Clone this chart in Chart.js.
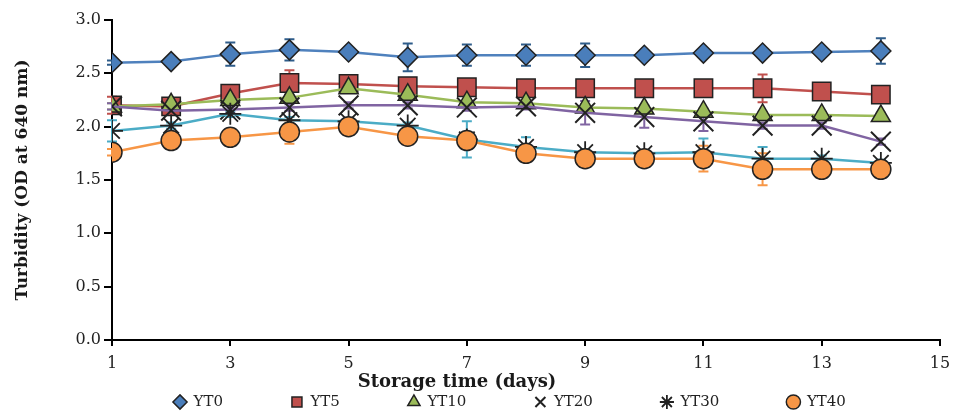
<!DOCTYPE html>
<html><head><meta charset="utf-8">
<script src="https://cdn.jsdelivr.net/npm/chart.js@4.4.1/dist/chart.umd.min.js"></script>
<style>html,body{margin:0;padding:0;background:#fff}#wrap{width:956px;height:412px}</style>
</head><body><div id="wrap"><canvas id="c" width="956" height="412"></canvas></div>
<script>
const days = [1, 2, 3, 4, 5, 6, 7, 8, 9, 10, 11, 12, 13, 14];
const xTicks = [1, 3, 5, 7, 9, 11, 13, 15];
const yTicks = [0, 0.5, 1.0, 1.5, 2.0, 2.5, 3.0];
const seriesNames = ['YT0', 'YT5', 'YT10', 'YT20', 'YT30', 'YT40'];

const yt0  = [2.60, 2.61, 2.68, 2.72, 2.70, 2.65, 2.67, 2.67, 2.67, 2.67, 2.69, 2.69, 2.70, 2.71];
const yt5  = [2.20, 2.19, 2.31, 2.41, 2.40, 2.38, 2.37, 2.36, 2.36, 2.36, 2.36, 2.36, 2.33, 2.30];
const yt10 = [2.19, 2.21, 2.25, 2.27, 2.36, 2.30, 2.23, 2.22, 2.18, 2.17, 2.14, 2.11, 2.11, 2.10];
const yt20 = [2.19, 2.15, 2.16, 2.18, 2.20, 2.20, 2.18, 2.19, 2.13, 2.09, 2.05, 2.01, 2.01, 1.86];
const yt30 = [1.96, 2.01, 2.12, 2.06, 2.05, 2.01, 1.88, 1.81, 1.76, 1.75, 1.76, 1.70, 1.70, 1.66];
const yt40 = [1.76, 1.87, 1.90, 1.95, 2.00, 1.91, 1.87, 1.75, 1.70, 1.70, 1.70, 1.60, 1.60, 1.60];

const yt0Err  = [0.02, 0.02, 0.11, 0.10, 0.02, 0.13, 0.10, 0.10, 0.11, 0.02, 0.02, 0.02, 0.02, 0.12];
const yt5Err  = [0.08, 0.03, 0.03, 0.12, 0.03, 0.03, 0.03, 0.03, 0.03, 0.03, 0.03, 0.13, 0.03, 0.03];
const yt10Err = [0.03, 0.03, 0.03, 0.03, 0.03, 0.03, 0.03, 0.03, 0.03, 0.03, 0.03, 0.03, 0.03, 0.03];
const yt20Err = [0.03, 0.03, 0.03, 0.03, 0.03, 0.03, 0.03, 0.03, 0.11, 0.10, 0.09, 0.03, 0.03, 0.03];
const yt30Err = [0.10, 0.03, 0.03, 0.03, 0.03, 0.03, 0.17, 0.09, 0.03, 0.03, 0.13, 0.11, 0.03, 0.03];
const yt40Err = [0.03, 0.03, 0.03, 0.11, 0.03, 0.03, 0.03, 0.03, 0.03, 0.03, 0.12, 0.15, 0.03, 0.03];

const xTitle = 'Storage time (days)';
const yTitle = 'Turbidity (OD at 640 nm)';

const pts = arr => days.map((d, i) => ({ x: d, y: arr[i] }));

function makeSet(i, vals, errs, style) {
  return Object.assign({
    label: seriesNames[i],
    data: pts(vals),
    errors: errs,
    order: 6 - i,
    tension: 0,
    borderWidth: 2.5,
    pointBorderWidth: 1.5,
    pointBorderColor: '#222'
  }, style);
}

const datasets = [
  makeSet(0, yt0, yt0Err, { borderColor: '#4F81BD', backgroundColor: '#4A7EBB', pointBackgroundColor: '#4A7EBB', pointStyle: 'rectRot', pointRadius: 10, errorColor: '#2E5C8A' }),
  makeSet(1, yt5, yt5Err, { borderColor: '#C0504D', backgroundColor: '#C0504D', pointBackgroundColor: '#C0504D', pointStyle: 'rect', pointRadius: 13, errorColor: '#C0504D' }),
  makeSet(2, yt10, yt10Err, { borderColor: '#9BBB59', backgroundColor: '#9BBB59', pointBackgroundColor: '#9BBB59', pointStyle: 'triangle', pointRadius: 11, errorColor: '#9BBB59' }),
  makeSet(3, yt20, yt20Err, { borderColor: '#8064A2', backgroundColor: '#8064A2', pointBackgroundColor: '#8064A2', pointStyle: 'crossRot', pointRadius: 14, pointBorderWidth: 2, errorColor: '#8064A2' }),
  makeSet(4, yt30, yt30Err, { borderColor: '#4BACC6', backgroundColor: '#4BACC6', pointBackgroundColor: '#4BACC6', pointStyle: 'star', pointRadius: 11, pointBorderWidth: 1.8, errorColor: '#4BACC6' }),
  makeSet(5, yt40, yt40Err, { borderColor: '#F79646', backgroundColor: '#F79646', pointBackgroundColor: '#F79646', pointStyle: 'circle', pointRadius: 10, errorColor: '#F79646' })
];

const errorBars = {
  id: 'errorBars',
  beforeDatasetsDraw(chart) {
    const ctx = chart.ctx, xs = chart.scales.x, ys = chart.scales.y;
    chart.data.datasets.forEach(ds => {
      if (!ds.errors) return;
      ctx.save();
      ctx.strokeStyle = ds.errorColor;
      ctx.lineWidth = 2;
      ds.data.forEach((p, i) => {
        const e = ds.errors[i];
        if (!e) return;
        const x = xs.getPixelForValue(p.x);
        const y1 = ys.getPixelForValue(p.y - e), y2 = ys.getPixelForValue(p.y + e);
        ctx.beginPath();
        ctx.moveTo(x, y1); ctx.lineTo(x, y2);
        ctx.moveTo(x - 5, y1); ctx.lineTo(x + 5, y1);
        ctx.moveTo(x - 5, y2); ctx.lineTo(x + 5, y2);
        ctx.stroke();
      });
      ctx.restore();
    });
  }
};

const LEG_PAD = 68, LEG_FONT = 15, LEG_CENTER_Y = 402, LEG_FIRST_X = 180;
const legendPlace = {
  id: 'legendPlace',
  beforeInit(chart) {
    const lg = chart.legend;
    const f = lg.fit.bind(lg);
    lg.fit = function () { f(); this.height = 20; };
  },
  afterLayout(chart) {
    const lg = chart.legend;
    const itemH = LEG_FONT;
    const newTop = LEG_CENTER_Y - LEG_PAD - itemH / 2;
    lg.top = newTop; lg.bottom = 412;
    const bw = 12;
    const cur = (lg.left + LEG_PAD + lg.right - lg.lineWidths[0]) / 2 + bw / 2;
    const s = LEG_FIRST_X - cur;
    lg.left += s; lg.right += s;
  }
};

const xTitlePlugin = {
  id: 'xTitlePlugin',
  afterDraw(chart) {
    const ctx = chart.ctx;
    ctx.save();
    ctx.font = 'bold 18px "DejaVu Serif"';
    ctx.fillStyle = '#1a1a1a';
    ctx.textAlign = 'center';
    ctx.textBaseline = 'middle';
    ctx.fillText(xTitle, 457, 382);
    ctx.restore();
  }
};

new Chart(document.getElementById('c'), {
  type: 'line',
  data: { datasets },
  plugins: [errorBars, legendPlace, xTitlePlugin],
  options: {
    responsive: false,
    animation: false,
    devicePixelRatio: 1,
    layout: { padding: { left: 4, right: 14, top: 20, bottom: 0 } },
    scales: {
      x: {
        type: 'linear', min: 1, max: 15,
        afterBuildTicks: s => { s.ticks = xTicks.map(v => ({ value: v })); },
        afterFit: s => { s.height = 52; s.paddingRight = 0; s.paddingLeft = 0; },
        border: { color: '#000', width: 2 },
        grid: { drawOnChartArea: false, color: '#000', lineWidth: 2, tickLength: 6 },
        ticks: { color: '#222', padding: 8, font: { family: '"DejaVu Serif"', size: 16 }, maxRotation: 0, autoSkip: false }
      },
      y: {
        type: 'linear', min: 0, max: 3,
        afterBuildTicks: s => { s.ticks = yTicks.map(v => ({ value: v })); },
        afterFit: s => { s.width = 108; },
        border: { color: '#000', width: 2 },
        grid: { drawOnChartArea: false, color: '#000', lineWidth: 2, tickLength: 8 },
        ticks: { color: '#222', padding: 3, font: { family: '"DejaVu Serif"', size: 16 }, callback: v => Number(v).toFixed(1) },
        title: { display: true, text: yTitle, color: '#1a1a1a', padding: 8, font: { family: '"DejaVu Serif"', size: 17, weight: 'bold' } }
      }
    },
    plugins: {
      tooltip: { enabled: false },
      legend: {
        position: 'bottom',
        labels: {
          usePointStyle: true, boxHeight: 10, boxWidth: 12, padding: LEG_PAD, color: '#222',
          font: { family: '"DejaVu Serif"', size: LEG_FONT },
          sort: (a, b) => a.datasetIndex - b.datasetIndex
        }
      }
    }
  }
});
</script>
</body></html>
